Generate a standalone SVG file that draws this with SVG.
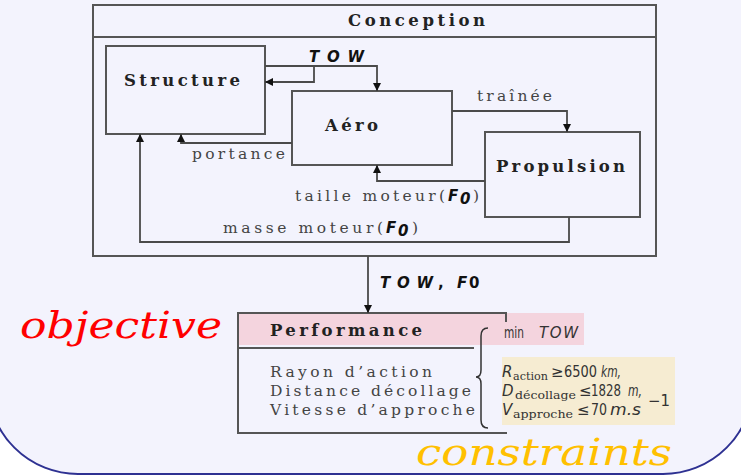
<svg xmlns="http://www.w3.org/2000/svg" width="741" height="476" viewBox="0 0 741 476">
  <defs>
    <marker id="arrow" viewBox="0 0 10 10" refX="10" refY="5" markerWidth="8" markerHeight="8" markerUnits="userSpaceOnUse" orient="auto">
      <path d="M0,0 L10,5 L0,10 Z" fill="#111"/>
    </marker>
    <style>
      .box { fill: none; stroke: #555; stroke-width: 2; }
      .wire { fill: none; stroke: #4a4a4a; stroke-width: 1.8; marker-end: url(#arrow); }
      .title { font-family: "DejaVu Serif", "Liberation Serif", serif; font-weight: bold; font-size: 16.5px; fill: #222; }
      .lbl { font-family: "DejaVu Serif", "Liberation Serif", serif; font-size: 15.5px; fill: #444; }
      .var { font-family: "DejaVu Sans", "Liberation Sans", sans-serif; font-weight: bold; font-style: italic; font-size: 15px; fill: #111; }
      .math { font-family: "DejaVu Sans", "Liberation Sans", sans-serif; font-size: 15px; fill: #333; }
      .mi { font-style: italic; }
      .sub { font-family: "DejaVu Serif", "Liberation Serif", serif; font-size: 11.5px; fill: #333; }
    </style>
  </defs>

  <!-- slide panel -->
  <rect x="-12" y="-100" width="765" height="574" rx="90" ry="90" fill="#f3f3fd" stroke="#2e3192" stroke-width="2"/>

  <!-- Conception frame -->
  <g id="conception">
    <rect class="box" x="93" y="5" width="563" height="251"/>
    <line class="box" x1="93" y1="37" x2="656" y2="37"/>
    <text class="title" x="348" y="26" textLength="137" lengthAdjust="spacing">Conception</text>
  </g>

  <g id="structure">
    <rect class="box" x="106" y="46" width="159" height="88"/>
    <text class="title" x="124" y="86" textLength="116" lengthAdjust="spacing">Structure</text>
  </g>

  <g id="aero">
    <rect class="box" x="292" y="91" width="160" height="74"/>
    <text class="title" x="325" y="131" textLength="53" lengthAdjust="spacing">Aéro</text>
  </g>

  <g id="propulsion">
    <rect class="box" x="485" y="132" width="155" height="85"/>
    <text class="title" x="496" y="172" textLength="129" lengthAdjust="spacing">Propulsion</text>
  </g>

  <!-- Performance block -->
  <g id="performance">
    <rect x="238" y="313" width="346" height="32" fill="#f4d4de"/>
    <rect x="502" y="357" width="173" height="68" fill="#f6ecd2"/>
    <path class="box" d="M506,322 V313 H238 V433 H507"/>
    <line class="box" x1="238" y1="348" x2="474" y2="348"/>
    <text class="title" x="270" y="336" textLength="152" lengthAdjust="spacing">Performance</text>
    <text class="lbl" x="270" y="377" textLength="162" lengthAdjust="spacing">Rayon d’action</text>
    <text class="lbl" x="270" y="396" textLength="201" lengthAdjust="spacing">Distance décollage</text>
    <text class="lbl" x="270" y="415" textLength="205" lengthAdjust="spacing">Vitesse d’approche</text>
    <path d="M488,328 Q481,328 481,336 L481,370 Q481,377 476,377 Q481,377 481,384 L481,420 Q481,428 488,428" fill="none" stroke="#333" stroke-width="1.5"/>
    <text class="math" x="504" y="338" font-size="14" textLength="20" lengthAdjust="spacingAndGlyphs">min</text>
    <text class="math mi" x="539" y="338" textLength="39" lengthAdjust="spacing">TOW</text>
    <!-- constraint rows -->
    <text class="math mi" x="502" y="377">R</text>
    <text class="sub" x="513" y="380" textLength="35" lengthAdjust="spacingAndGlyphs">action</text>
    <text class="math" x="551" y="377">≥</text>
    <text class="math" x="564" y="377" textLength="33" lengthAdjust="spacingAndGlyphs">6500</text>
    <text class="math mi" x="601" y="377" textLength="20" lengthAdjust="spacingAndGlyphs">km,</text>

    <text class="math mi" x="502" y="396">D</text>
    <text class="sub" x="515" y="399" textLength="61" lengthAdjust="spacingAndGlyphs">décollage</text>
    <text class="math" x="579" y="396">≤</text>
    <text class="math" x="591" y="396" textLength="30" lengthAdjust="spacingAndGlyphs">1828</text>
    <text class="math mi" x="628" y="396" textLength="14" lengthAdjust="spacingAndGlyphs">m,</text>

    <text class="math mi" x="502" y="415">V</text>
    <text class="sub" x="513" y="418" textLength="60" lengthAdjust="spacingAndGlyphs">approche</text>
    <text class="math" x="577" y="415">≤</text>
    <text class="math" x="591" y="415" textLength="16" lengthAdjust="spacingAndGlyphs">70</text>
    <text class="math mi" x="610" y="415" textLength="31" lengthAdjust="spacingAndGlyphs">m.s</text>
    <text class="math" x="648" y="406" font-size="12" textLength="22" lengthAdjust="spacingAndGlyphs">−1</text>
  </g>

  <!-- connectors -->
  <g id="connectors">
    <path class="wire" d="M265,66 H377 V91"/>
    <path class="wire" d="M314,66 V82 H265"/>
    <path class="wire" d="M452,111 H567 V132"/>
    <path class="wire" d="M485,181 H377 V165"/>
    <path class="wire" d="M292,143 H181 V134"/>
    <path class="wire" d="M569,217 V242 H140 V134"/>
    <path class="wire" d="M368,256 V313"/>

    <text class="var" x="309" y="62" textLength="55" lengthAdjust="spacing">TOW</text>
    <text class="lbl" x="477" y="101" textLength="75" lengthAdjust="spacing">traînée</text>
    <text class="lbl" x="192" y="159" textLength="93" lengthAdjust="spacing">portance</text>
    <text class="lbl" y="201"><tspan x="295" textLength="150" lengthAdjust="spacing">taille moteur(</tspan><tspan x="448" class="var">F</tspan><tspan x="460" dy="3" class="var" font-style="normal" font-size="12">0</tspan><tspan x="473" dy="-3">)</tspan></text>
    <text class="lbl" y="233"><tspan x="223" textLength="160" lengthAdjust="spacing">masse moteur(</tspan><tspan x="386" class="var">F</tspan><tspan x="398" dy="3" class="var" font-style="normal" font-size="12">0</tspan><tspan x="412" dy="-3">)</tspan></text>
    <text class="var" y="288"><tspan x="380" textLength="53" lengthAdjust="spacing">TOW</tspan><tspan x="438" font-style="normal">,</tspan><tspan x="457">F</tspan><tspan x="469" font-style="normal">0</tspan></text>
  </g>

  <!-- annotations -->
  <text x="20" y="338" font-family="DejaVu Serif, Liberation Serif, serif" font-style="italic" font-size="38" fill="#ff0000" textLength="202" lengthAdjust="spacingAndGlyphs">objective</text>
  <text x="416" y="465" font-family="DejaVu Serif, Liberation Serif, serif" font-style="italic" font-size="38" fill="#ffc000" textLength="256" lengthAdjust="spacingAndGlyphs">constraints</text>
</svg>
